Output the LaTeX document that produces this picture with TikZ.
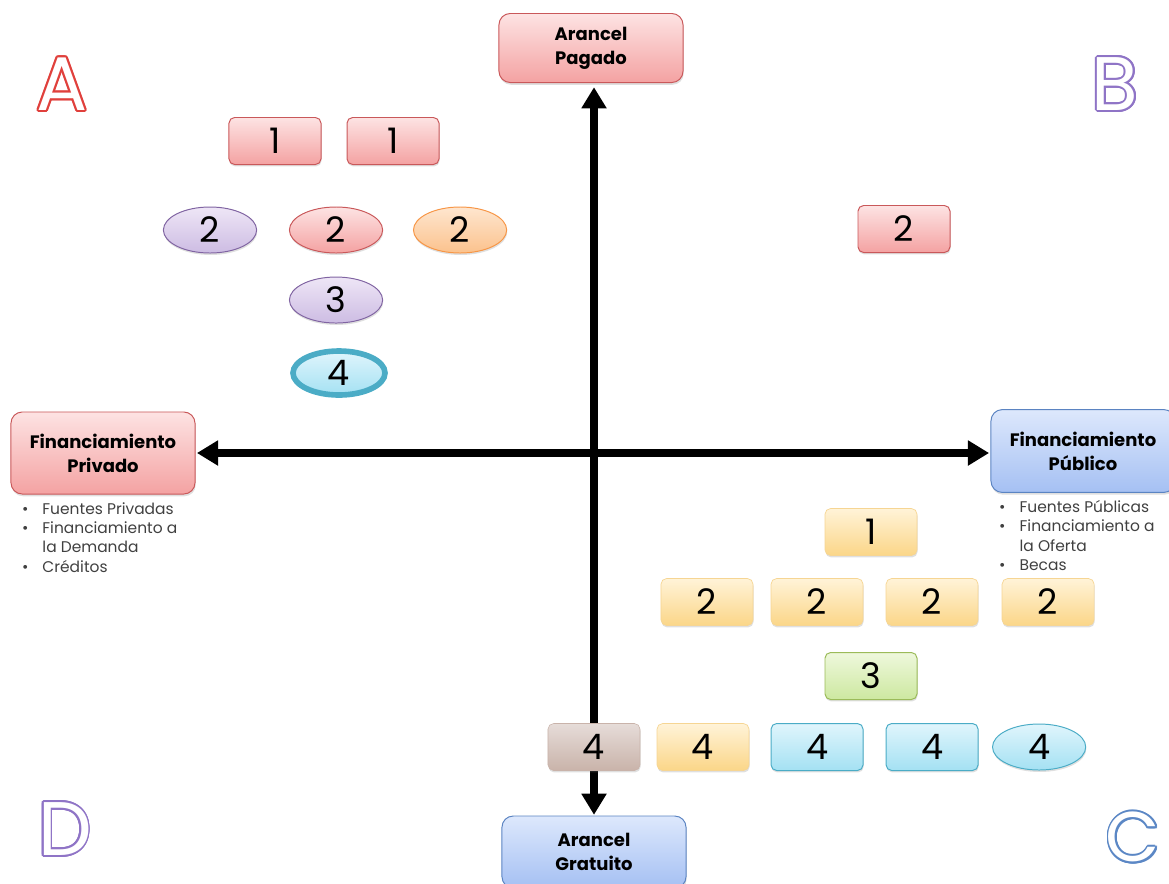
\documentclass[tikz,border=0pt]{standalone}
\usepackage{fontspec}
\setmainfont{Poppins}
\usepackage{contour}
\usetikzlibrary{positioning,shapes.geometric,shadows,arrows.meta}

\definecolor{redtop}{HTML}{FDE3E3}
\definecolor{redbot}{HTML}{F4A2A2}
\definecolor{redline}{HTML}{C9585A}
\definecolor{bluetop}{HTML}{DDE8FC}
\definecolor{bluebot}{HTML}{A5C0F3}
\definecolor{blueline}{HTML}{5B84C2}
\definecolor{lilatop}{HTML}{EEE6F6}
\definecolor{lilabot}{HTML}{CDBCE3}
\definecolor{lilaline}{HTML}{8064A2}
\definecolor{orantop}{HTML}{FEE6CF}
\definecolor{oranbot}{HTML}{FBC28D}
\definecolor{oranline}{HTML}{F79646}
\definecolor{yeltop}{HTML}{FFF3D8}
\definecolor{yelbot}{HTML}{FBD688}
\definecolor{yelline}{HTML}{F6D593}
\definecolor{greentop}{HTML}{EEF8DC}
\definecolor{greenbot}{HTML}{CDE8A0}
\definecolor{greenline}{HTML}{9BBB59}
\definecolor{cyantop}{HTML}{E0F5FC}
\definecolor{cyanbot}{HTML}{A4E1F3}
\definecolor{cyanline}{HTML}{4BACC6}
\definecolor{browntop}{HTML}{E6DCD8}
\definecolor{brownbot}{HTML}{C9B3AA}
\definecolor{textgrey}{HTML}{404040}
\definecolor{letterred}{HTML}{E0403C}
\definecolor{letterlila}{HTML}{8F74C6}
\definecolor{letterblue}{HTML}{5B87C5}

\contourlength{1.3pt}

\tikzset{
  card/.style={on grid, rounded corners=4pt, minimum width=2.3cm, minimum height=1.175cm,
    inner sep=0pt, font=\fontsize{25}{25}\selectfont,
    drop shadow={opacity=0.25, shadow xshift=0.4pt, shadow yshift=-1.4pt}},
  oval/.style={on grid, ellipse, minimum width=2.33cm, minimum height=1.15cm,
    inner sep=0pt, font=\fontsize{25}{25}\selectfont,
    drop shadow={opacity=0.25, shadow xshift=0.4pt, shadow yshift=-1.4pt}},
  redc/.style={top color=redtop, bottom color=redbot, draw=redline, line width=0.7pt},
  lilac/.style={top color=lilatop, bottom color=lilabot, draw=lilaline, line width=0.7pt},
  oranc/.style={top color=orantop, bottom color=oranbot, draw=oranline, line width=0.7pt},
  yelc/.style={top color=yeltop, bottom color=yelbot, draw=yelline, line width=0.5pt},
  greenc/.style={top color=greentop, bottom color=greenbot, draw=greenline, line width=0.7pt},
  cyanc/.style={top color=cyantop, bottom color=cyanbot, draw=cyanline, line width=0.7pt},
  brownc/.style={top color=browntop, bottom color=brownbot, draw=brownbot, line width=0.4pt},
  bluec/.style={top color=bluetop, bottom color=bluebot, draw=blueline, line width=0.7pt},
  pole/.style={rounded corners=8pt, minimum width=4.6cm, inner sep=0pt, align=center,
    font=\bfseries\fontsize{12.8}{17}\selectfont,
    drop shadow={opacity=0.25, shadow xshift=0.5pt, shadow yshift=-1.6pt}},
  axis/.style={line width=5pt, {Triangle[width=17pt,length=15pt]}-{Triangle[width=17pt,length=15pt]}},
  corner/.style={inner sep=0pt, font=\fontsize{54}{54}\selectfont},
  bullets/.style={inner sep=0pt, anchor=north west, text=textgrey,
    font=\fontsize{11}{13.8}\selectfont}
}

\begin{document}
\begin{tikzpicture}[x=0.025cm,y=-0.025cm]
  \useasboundingbox (0,0) rectangle (1169,883);

  % ejes
  \coordinate (o) at (594,453);
  \node[pole, redc, minimum height=1.725cm] (pag) at (591,48) {Arancel\\Pagado};
  \node[pole, bluec, minimum height=1.8cm] (gra) at (594,852) {Arancel\\Gratuito};
  \node[pole, redc, minimum height=2.05cm] (pri) at (103,453) {Financiamiento\\Privado};
  \node[pole, bluec, minimum height=2.07cm] (pub) at (1083,451) {Financiamiento\\Público};
  \draw[axis, shorten <=3pt, shorten >=0.5pt] (o |- pag.south) -- (o |- gra.north);
  \draw[axis, shorten <=1pt, shorten >=1pt] (o -| pri.east) -- (o -| pub.west);

  \node[bullets] (pril) at ([xshift=8pt,yshift=-4pt]pri.south west) {%
    \begin{tabular}{@{}l@{\hspace{10pt}}l@{}}
      \textbullet & Fuentes Privadas\\
      \textbullet & Financiamiento a\\
                  & la Demanda\\
      \textbullet & Créditos
    \end{tabular}};
  \node[bullets] (publ) at ([xshift=6pt,yshift=-4pt]pub.south west) {%
    \begin{tabular}{@{}l@{\hspace{10pt}}l@{}}
      \textbullet & Fuentes Públicas\\
      \textbullet & Financiamiento a\\
                  & la Oferta\\
      \textbullet & Becas
    \end{tabular}};

  % cuadrantes
  \node[corner] (la) at (62,85) {\contour{letterred}{\textcolor{white}{A}}};
  \node[corner] (lb) at (1115,85) {\contour{letterlila}{\textcolor{white}{B}}};
  \node[corner, font=\fontsize{50}{50}\selectfont] (lc) at (1133,838) {\contour{letterblue}{\textcolor{white}{C}}};
  \node[corner] (ld) at (65,830) {\contour{letterlila}{\textcolor{white}{D}}};

  % A
  \node[card, redc] (a1) at (275,141) {1};
  \node[card, redc, right=2.95cm of a1] (a1b) {1};
  \node[oval, lilac] (a2) at (210,230) {2};
  \node[oval, redc, right=3.15cm of a2] (a2b) {2};
  \node[oval, oranc, right=3.1cm of a2b] (a2c) {2};
  \node[oval, lilac, below=1.75cm of a2b] (a3) {3};
  \node[oval, cyanc, line width=4pt, minimum width=2.3cm, minimum height=1.1cm] (a4) at (339,373) {4};

  % B
  \node[card, redc] (b2) at (904,229) {2};

  % C
  \node[card, yelc] (c1) at (871,532) {1};
  \node[card, yelc] (c2) at (707,602) {2};
  \node[card, yelc, right=2.75cm of c2] (c2b) {2};
  \node[card, yelc, right=2.875cm of c2b] (c2c) {2};
  \node[card, yelc, right=2.9cm of c2c] (c2d) {2};
  \node[card, greenc] (c3) at (871,676) {3};
  \node[card, brownc] (c4) at (594,747) {4};
  \node[card, yelc, right=2.725cm of c4] (c4b) {4};
  \node[card, cyanc, right=2.85cm of c4b] (c4c) {4};
  \node[card, cyanc, right=2.875cm of c4c] (c4d) {4};
  \node[oval, cyanc, right=2.675cm of c4d] (c4e) {4};
\end{tikzpicture}
\end{document}
